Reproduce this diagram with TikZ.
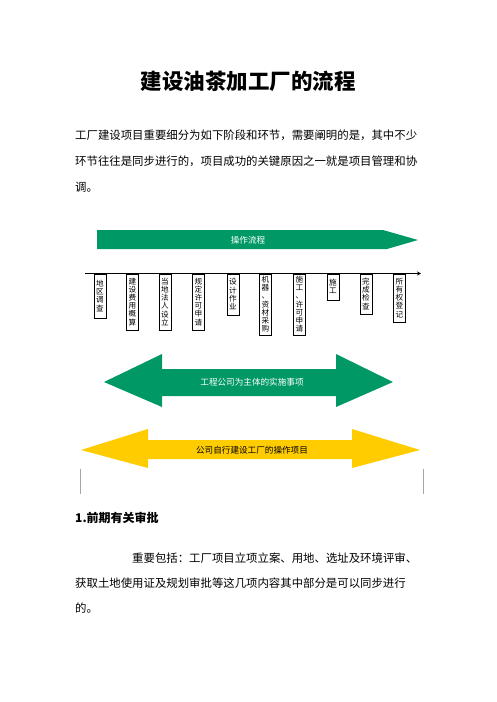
\documentclass[tikz,border=0pt]{standalone}
\usepackage{fontspec}
\setmainfont{Noto Sans CJK SC}
\usetikzlibrary{arrows.meta,calc}
\definecolor{flowgreen}{RGB}{0,153,102}
\definecolor{flowyellow}{RGB}{255,204,0}
\tikzset{
  body/.style={anchor=west,inner sep=0pt,font=\fontsize{11.4}{11.4}\selectfont},
  vbox/.style={draw=black,line width=0.4pt,anchor=north,minimum width=12pt,inner sep=0pt,
    align=center,font=\fontsize{7.6}{8.2}\selectfont,fill=white},
  banner/.style={inner sep=0pt,font=\fontsize{8.6}{8.6}\selectfont},
}
\newcommand{\vboxedge}[1]{\draw[line width=1pt] (#1.north east) -- (#1.south east);}
\begin{document}
\begin{tikzpicture}[x=1pt,y=-1pt]
\useasboundingbox (0,0) rectangle (496,702);
\fill[white] (0,0) rectangle (496,702);
% title
\node[inner sep=0pt,font=\fontsize{21.5}{21.5}\selectfont\bfseries] (title) at (248,81) {建设油茶加工厂的流程};
% paragraph
\node[body] (p1) at (75,135) {工厂建设项目重要细分为如下阶段和环节，需要阐明的是，其中不少};
\node[body] (p2) at (75,161) {环节往往是同步进行的，项目成功的关键原因之一就是项目管理和协};
\node[body] (p3) at (75,187) {调。};
% banner arrow
\fill[flowgreen] (97,230) -- (383,230) -- (418,240) -- (387,249) -- (97,249) -- cycle;
\node[banner,text=white] (bannertext) at (248,240) {操作流程};
% timeline
\coordinate (tl0) at (85,273.5);
\coordinate (tl1) at (421,273.5);
\draw[line width=1.6pt,-{Stealth[length=4pt,width=4pt]}] (tl0) -- (tl1);
% boxes
\node[vbox,minimum height=44pt] (b1) at (100,273.5) {地\\区\\调\\查};
\node[vbox,minimum height=56pt] (b2) at (132.5,273.5) {建\\设\\费\\用\\概\\算};
\node[vbox,minimum height=56pt] (b3) at (165,273.5) {当\\地\\法\\人\\设\\立};
\node[vbox,minimum height=56pt] (b4) at (198.5,273.5) {规\\定\\许\\可\\申\\请};
\node[vbox,minimum height=41pt] (b5) at (233,273.5) {设\\计\\作\\业};
\node[vbox,minimum height=61pt] (b6) at (265.5,273.5) {机\\器\\、\\资\\材\\采\\购};
\node[vbox,minimum height=61pt] (b7) at (299.5,273.5) {施\\工\\、\\许\\可\\申\\请};
\node[vbox,minimum height=26pt] (b8) at (333,273.5) {施\\工};
\node[vbox,minimum height=40pt] (b9) at (366,273.5) {完\\成\\检\\查};
\node[vbox,minimum height=48pt] (b10) at (399.5,273.5) {所\\有\\权\\登\\记};
\foreach \b in {b1,b2,b3,b4,b5,b6,b7,b8,b9,b10} {\vboxedge{\b}}
\draw[line width=1.6pt] (tl0) -- ($(tl1)+(-3,0)$);
% green double arrow
\fill[flowgreen] (104,382) -- (162,354) -- (162,369) -- (336,369) -- (336,354) -- (393,382)
  -- (336,407) -- (336,396) -- (162,396) -- (162,407) -- cycle;
\node[banner,text=white] (greentext) at (252,382) {工程公司为主体的实施事项};
% yellow double arrow
\fill[flowyellow] (81,450) -- (148,429) -- (148,440) -- (352,440) -- (352,429) -- (420,450)
  -- (352,468) -- (352,459) -- (148,459) -- (148,468) -- cycle;
\node[banner,text=black] (yellowtext) at (252,450) {公司自行建设工厂的操作项目};
% side marks
\coordinate (m1a) at (80,469); \coordinate (m1b) at (80,494);
\coordinate (m2a) at (423,469); \coordinate (m2b) at (423,494);
\draw[gray!70,line width=0.6pt] (m1a) -- (m1b);
\draw[gray!70,line width=0.6pt] (m2a) -- (m2b);
% heading
\node[inner sep=0pt,anchor=west,font=\fontsize{12}{12}\selectfont\bfseries] (h1) at (75,518) {1.前期有关审批};
\node[body] (q1) at (132,558) {重要包括：工厂项目立项立案、用地、选址及环境评审、};
\node[body] (q2) at (75,583) {获取土地使用证及规划审批等这几项内容其中部分是可以同步进行};
\node[body] (q3) at (75,608) {的。};
\end{tikzpicture}
\end{document}
